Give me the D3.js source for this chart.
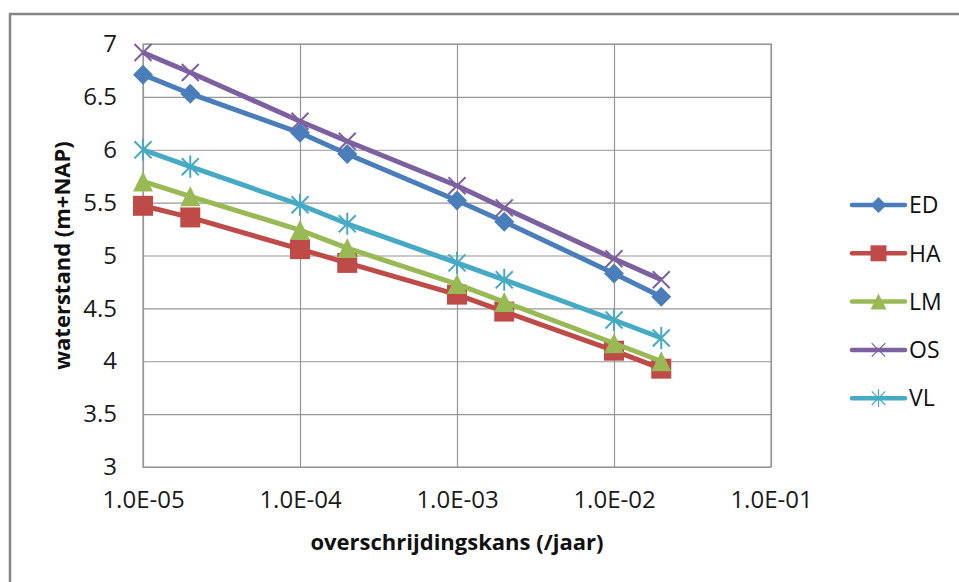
<!DOCTYPE html>
<html>
<head>
<meta charset="utf-8">
<script src="https://cdn.jsdelivr.net/npm/d3@7"></script>
<style>
  body { margin: 0; background: #fff; }
  svg { display: block; font-family: "Open Sans", sans-serif; }
</style>
</head>
<body>
<div id="chart"></div>
<script>
// Data
const kansen = [1e-5, 2e-5, 1e-4, 2e-4, 1e-3, 2e-3, 1e-2, 2e-2]
const seriesNames = ['ED', 'HA', 'LM', 'OS', 'VL']
const ED = [6.71, 6.53, 6.16, 5.96, 5.52, 5.32, 4.83, 4.61]
const HA = [5.47, 5.36, 5.06, 4.93, 4.63, 4.47, 4.10, 3.93]
const LM = [5.70, 5.56, 5.24, 5.07, 4.73, 4.56, 4.17, 4.00]
const OS = [6.92, 6.73, 6.27, 6.08, 5.66, 5.45, 4.97, 4.77]
const VL = [6.00, 5.84, 5.48, 5.30, 4.93, 4.77, 4.39, 4.22]
const xTicks = [1e-5, 1e-4, 1e-3, 1e-2, 1e-1]
const xTickLabels = ['1.0E-05', '1.0E-04', '1.0E-03', '1.0E-02', '1.0E-01']
const yTicks = [3, 3.5, 4, 4.5, 5, 5.5, 6, 6.5, 7]

const values = { ED, HA, LM, OS, VL }
const colors = { ED: '#4a7ebb', HA: '#be4b48', LM: '#98b954', OS: '#7d60a0', VL: '#46aac5' }

// Dimensions
const width = 959, height = 582
const plot = { left: 143, right: 771, top: 44, bottom: 467 }

const svg = d3.select('#chart').append('svg')
  .attr('width', width)
  .attr('height', height)

// outer chart border (runs off the picture at right and bottom)
svg.append('rect')
  .attr('x', 10).attr('y', 14)
  .attr('width', 980).attr('height', 600)
  .attr('fill', 'none')
  .attr('stroke', '#868686')
  .attr('stroke-width', 2.5)

// scales
const x = d3.scaleLog().domain([1e-5, 1e-1]).range([plot.left, plot.right])
const y = d3.scaleLinear().domain([3, 7]).range([plot.bottom, plot.top])

// gridlines
svg.append('g')
  .attr('transform', `translate(0,${plot.bottom})`)
  .call(d3.axisBottom(x).tickValues(xTicks).tickSize(-(plot.bottom - plot.top)).tickFormat(''))
  .call(g => g.select('.domain').remove())
  .call(g => g.selectAll('line').attr('stroke', '#969696').attr('stroke-width', 1.2))

svg.append('g')
  .attr('transform', `translate(${plot.left},0)`)
  .call(d3.axisLeft(y).tickValues(yTicks).tickSize(-(plot.right - plot.left)).tickFormat(''))
  .call(g => g.select('.domain').remove())
  .call(g => g.selectAll('line').attr('stroke', '#969696').attr('stroke-width', 1.2))

svg.append('rect')
  .attr('x', plot.left).attr('y', plot.top)
  .attr('width', plot.right - plot.left).attr('height', plot.bottom - plot.top)
  .attr('fill', 'none').attr('stroke', '#969696').attr('stroke-width', 1.2)

// tick labels
const xAxis = svg.append('g')
  .attr('transform', `translate(0,${plot.bottom})`)
  .call(d3.axisBottom(x).tickValues(xTicks).tickSize(0).tickPadding(24)
    .tickFormat((d, i) => xTickLabels[i]))
xAxis.select('.domain').remove()
xAxis.selectAll('text').attr('font-size', 24).attr('fill', '#1a1a1a').attr('font-family', '"Open Sans", sans-serif')

const yAxis = svg.append('g')
  .attr('transform', `translate(${plot.left},0)`)
  .call(d3.axisLeft(y).tickValues(yTicks).tickSize(0).tickPadding(26).tickFormat(d3.format('')))
yAxis.select('.domain').remove()
yAxis.selectAll('text').attr('font-size', 24).attr('fill', '#1a1a1a').attr('font-family', '"Open Sans", sans-serif')

// axis titles
svg.append('text')
  .attr('x', (plot.left + plot.right) / 2).attr('y', 550)
  .attr('text-anchor', 'middle')
  .attr('font-size', 22).attr('font-weight', 'bold').attr('fill', '#111')
  .text('overschrijdingskans (/jaar)')

svg.append('text')
  .attr('transform', `translate(70,${(plot.top + plot.bottom) / 2}) rotate(-90)`)
  .attr('text-anchor', 'middle')
  .attr('font-size', 22).attr('font-weight', 'bold').attr('fill', '#111')
  .text('waterstand (m+NAP)')

// marker shapes (Excel style)
const diamond = { draw(c, s) { const r = Math.sqrt(s) / 2; c.moveTo(0, -r); c.lineTo(r, 0); c.lineTo(0, r); c.lineTo(-r, 0); c.closePath() } }
const square = { draw(c, s) { const r = Math.sqrt(s) / 2; c.rect(-r, -r, 2 * r, 2 * r) } }
const triangle = { draw(c, s) { const r = Math.sqrt(s) / 2; c.moveTo(0, -r); c.lineTo(r, r); c.lineTo(-r, r); c.closePath() } }
const cross = { draw(c, s) { const r = Math.sqrt(s) / 2; c.moveTo(-r, -r); c.lineTo(r, r); c.moveTo(-r, r); c.lineTo(r, -r) } }
const star = { draw(c, s) { const r = Math.sqrt(s) / 2; c.moveTo(-r, -r); c.lineTo(r, r); c.moveTo(-r, r); c.lineTo(r, -r); c.moveTo(0, -r * 1.3); c.lineTo(0, r * 1.3) } }
const markers = {
  ED: { type: diamond, size: 20 * 20, filled: true },
  HA: { type: square, size: 20 * 20, filled: true },
  LM: { type: triangle, size: 20 * 20, filled: true },
  OS: { type: cross, size: 17 * 17, filled: false },
  VL: { type: star, size: 17 * 17, filled: false },
}

function drawMarker(sel, name, scale, sw) {
  const m = markers[name]
  sel.attr('d', d3.symbol().type(m.type).size(m.size * scale * scale))
    .attr('fill', m.filled ? colors[name] : 'none')
    .attr('stroke', colors[name])
    .attr('stroke-width', m.filled ? 0 : sw)
}

const line = d3.line()
  .x(d => x(d[0]))
  .y(d => y(d[1]))

seriesNames.forEach(name => {
  const pts = kansen.map((k, i) => [k, values[name][i]])
  const g = svg.append('g')
  g.append('path')
    .datum(pts)
    .attr('d', line)
    .attr('fill', 'none')
    .attr('stroke', colors[name])
    .attr('stroke-width', 5)
    .attr('stroke-linejoin', 'round')
  g.selectAll('path.m')
    .data(pts)
    .join('path')
    .attr('class', 'm')
    .attr('transform', d => `translate(${x(d[0])},${y(d[1])})`)
    .call(drawMarker, name, 1, 2)
})

// legend
const legend = svg.append('g')
  .selectAll('g')
  .data(seriesNames)
  .join('g')
  .attr('transform', (d, i) => `translate(852,${205 + i * 48.3})`)

legend.append('line')
  .attr('x1', 0).attr('x2', 53)
  .attr('stroke', d => colors[d])
  .attr('stroke-width', 4.5)
  .attr('stroke-linecap', 'round')
legend.append('path')
  .attr('transform', 'translate(26.5,0)')
  .each(function (d) { d3.select(this).call(drawMarker, d, 0.8, 1.2) })
legend.append('text')
  .attr('x', 57).attr('dy', '0.36em')
  .attr('font-size', 23).attr('fill', '#111')
  .text(d => d)
</script>
</body>
</html>
